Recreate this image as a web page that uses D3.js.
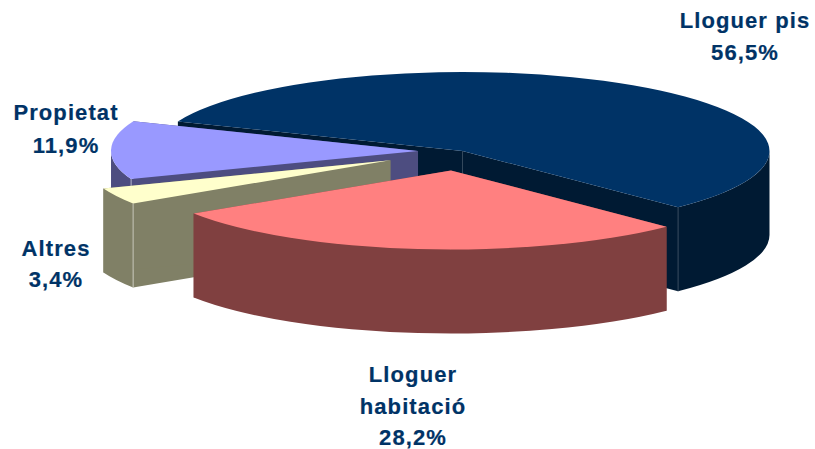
<!DOCTYPE html>
<html>
<head>
<meta charset="utf-8">
<script src="https://cdn.jsdelivr.net/npm/d3@7"></script>
<style>
  html, body { margin: 0; padding: 0; background: #fff; }
  text { font-family: "Liberation Sans", Arial, sans-serif; font-weight: bold; font-size: 22px; letter-spacing: 1.1px; fill: #003366; stroke: #003366; stroke-width: 0.2px; }
</style>
</head>
<body>
<div id="chart"></div>
<script>
// Values
const categories = ["Lloguer pis", "Lloguer habitació", "Altres", "Propietat"];
const values = [56.5, 28.2, 3.4, 11.9];
const valueLabels = ["56,5%", "28,2%", "3,4%", "11,9%"];
const topColors = ["#003366", "#ff8080", "#ffffcc", "#9999ff"];
const sideColors = ["#001a33", "#804040", "#808066", "#4d4d80"];

// How far each slice is pulled out of the pie
const explode = [0, 0.26, 0.26, 0.14];
// small sideways correction, the front slices sit a bit more to the left
const nudgeX = [0, -3, -1, -1.5];
const nudgeY = [0, -1, 0, 0];

const width = 815, height = 449;
const cx = 462.5, cy = 151;      // pie centre
const rx = 307, ry = 79;         // ellipse of the top face
const depth = 84;                // height of the pie
const firstAngle = -68 * Math.PI / 180;

// Where the label lines go
const labelLines = [
  { x: 745, y: [28, 60], lines: [categories[0], valueLabels[0]] },
  { x: 413, y: [382, 414, 445], lines: ["Lloguer", "habitació", valueLabels[1]] },
  { x: 56, y: [256, 287], lines: [categories[2], valueLabels[2]] },
  { x: 66, y: [120, 153], lines: [categories[3], valueLabels[3]] }
];

const svg = d3.select("#chart")
  .append("svg")
  .attr("width", width)
  .attr("height", height)
  .style("display", "block");

const pie = d3.pie()
  .sort(null)
  .startAngle(firstAngle)
  .endAngle(firstAngle + 2 * Math.PI);

const arcs = pie(values);

// top face: a normal d3 arc squashed into an ellipse
const topArc = d3.arc().innerRadius(0).outerRadius(rx);

// point on the rim for an angle measured clockwise from 12 o'clock
function rim(a, dy) {
  return [rx * Math.sin(a), -ry * Math.cos(a) + (dy || 0)];
}

function radialWall(a) {
  const p = rim(a);
  return `M0,0L${p}L${p[0]},${p[1] + depth}L0,${depth}Z`;
}

function outerWall(a0, a1) {
  const from = Math.max(a0, Math.PI / 2);
  const to = Math.min(a1, 3 * Math.PI / 2);
  if (to <= from) return null;
  const p0 = rim(from), p1 = rim(to), q1 = rim(to, depth), q0 = rim(from, depth);
  return `M${p0}A${rx},${ry} 0 0 1 ${p1}L${q1}A${rx},${ry} 0 0 0 ${q0}Z`;
}

// back to front
const drawOrder = [0, 3, 2, 1];

drawOrder.forEach(i => {
  const d = arcs[i];
  const mid = (d.startAngle + d.endAngle) / 2;
  const off = rim(mid);
  const g = svg.append("g")
    .attr("transform", `translate(${cx + nudgeX[i] + off[0] * explode[i]},${cy + nudgeY[i] + off[1] * explode[i]})`);

  const edge = d3.interpolateRgb(sideColors[i], "#fff")(i === 0 ? 0.2 : 0.55);

  g.selectAll("path.wall")
    .data([d.startAngle, d.endAngle])
    .enter()
    .append("path")
    .attr("class", "wall")
    .attr("d", radialWall)
    .attr("fill", sideColors[i]);

  const outer = outerWall(d.startAngle, d.endAngle);
  if (outer) g.append("path").attr("d", outer).attr("fill", sideColors[i]);

  // light line on the corner where a cut face meets the rim
  let cornerAngle = null;
  if (i === 0) cornerAngle = d.endAngle;
  if (i === 2) cornerAngle = d.startAngle;
  if (i === 3) cornerAngle = d.startAngle;
  if (cornerAngle !== null) {
    const c = rim(cornerAngle);
    g.append("line")
      .attr("x1", c[0]).attr("y1", c[1])
      .attr("x2", c[0]).attr("y2", c[1] + depth)
      .attr("stroke", edge)
      .attr("stroke-width", 1);
  }
  if (i === 0) {
    g.append("line")
      .attr("x1", 0).attr("y1", 0)
      .attr("x2", 0).attr("y2", depth)
      .attr("stroke", edge)
      .attr("stroke-width", 1);
  }

  g.append("path")
    .attr("d", topArc(d))
    .attr("transform", `scale(1,${ry / rx})`)
    .attr("fill", topColors[i]);
});

// labels
labelLines.forEach(label => {
  label.lines.forEach((line, j) => {
    svg.append("text")
      .attr("x", label.x)
      .attr("y", label.y[j])
      .attr("text-anchor", "middle")
      .text(line);
  });
});
</script>
</body>
</html>
